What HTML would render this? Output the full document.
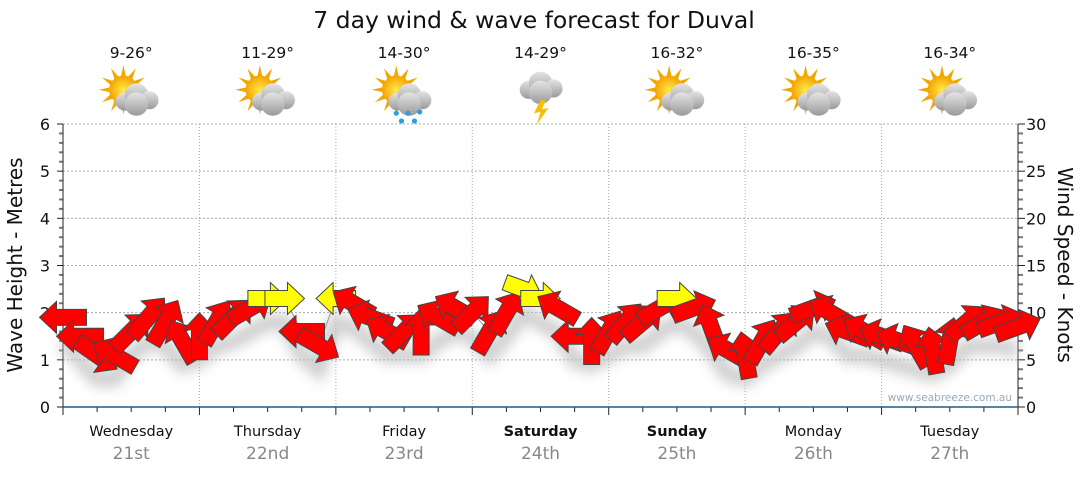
<!DOCTYPE html>
<html><head><meta charset="utf-8"><style>
body{margin:0;background:#fff;font-family:"Liberation Sans",sans-serif}
svg text{font-family:"DejaVu Sans","Liberation Sans",sans-serif}
</style></head><body>
<svg id="c" width="1080" height="475" viewBox="0 0 1080 475">
<defs><filter id="blur" x="-20%" y="-50%" width="140%" height="200%"><feGaussianBlur stdDeviation="6"/></filter>
<radialGradient id="sun" cx="0.5" cy="0.5" r="0.5"><stop offset="0" stop-color="#ffe94a"/><stop offset="1" stop-color="#f4a400"/></radialGradient>
<linearGradient id="cloud" x1="0" y1="0" x2="0" y2="1"><stop offset="0" stop-color="#e4e4e4"/><stop offset="1" stop-color="#9a9a9a"/></linearGradient></defs>
<text x="534" y="28" font-size="23.5" text-anchor="middle" fill="#111">7 day wind &amp; wave forecast for Duval</text>
<g id="grid"></g><g id="axes"></g><g id="icons"></g><g id="marks"></g>
<text x="1012" y="401" font-size="10.5" text-anchor="end" fill="#9aa8bb">www.seabreeze.com.au</text>
<text transform="translate(22,265) rotate(-90)" font-size="20" text-anchor="middle" fill="#111">Wave Height - Metres</text>
<text transform="translate(1058,265) rotate(90)" font-size="20" text-anchor="middle" fill="#111">Wind Speed - Knots</text>
</svg>
<script>
const days=["Wednesday","Thursday","Friday","Saturday","Sunday","Monday","Tuesday"];
const dates=["21st","22nd","23rd","24th","25th","26th","27th"];
const bold=[false,false,false,true,true,false,false];
const temps=["9-26°","11-29°","14-30°","14-29°","16-32°","16-35°","16-34°"];
const icons=["sc","sc","rain","storm","sc","sc","sc"];
const waveTicks=[0,1,2,3,4,5,6];
const windTicks=[0,5,10,15,20,25,30];
// 3-hourly readings
const waveHeight=[1.9,1.5,1.1,1.1,1.6,1.9,1.8,1.4,1.5,1.8,1.9,2.1,2.3,2.3,1.6,1.3,2.3,2.2,1.9,1.6,1.6,1.6,1.9,2.1,2.0,1.6,2.0,2.5,2.3,2.1,1.5,1.4,1.6,1.8,1.8,2.1,2.3,2.1,1.7,1.2,1.1,1.4,1.6,1.8,2.1,2.0,1.6,1.6,1.5,1.4,1.3,1.2,1.4,1.8,1.8,1.8,1.7];
const windSpeed=[14,14,15,15,15,16,16,14,14,15,15,14,9,9,13,13,9,13,14,14,14,14,14,13,13,14,14,9,9,13,14,14,14,14,14,14,9,13,14,14,14,15,15,14,14,14,14,14,14,14,14,14,14,14,14,14,14];
const windDir=[180,180,35,-150,-45,-50,-60,-120,-90,-60,-45,-30,0,0,180,30,180,-150,-160,-150,-45,-90,-150,-150,-45,-60,-60,20,0,-150,180,-90,-60,-50,-40,-30,0,-20,-110,-150,-100,-60,-50,-40,-20,-150,-160,-150,-160,-160,-120,-100,-80,-40,-30,-20,-20];
const NS="http://www.w3.org/2000/svg";
const X0=63,X1=1018,Y0=407,Y6=124;
const xT=h=>X0+(h/168)*(X1-X0);
const yW=v=>Y0-(v/6)*(Y0-Y6);
const yK=v=>Y0-(v/30)*(Y0-Y6);
function mk(t,a,p){const e=document.createElementNS(NS,t);for(const k in a)e.setAttribute(k,a[k]);if(p)p.appendChild(e);return e;}
const grid=document.getElementById('grid'),axes=document.getElementById('axes'),icG=document.getElementById('icons'),marks=document.getElementById('marks');
waveTicks.forEach(v=>{if(v>0){const l=mk('line',{x1:X0,x2:X1,y1:yW(v),y2:yW(v),stroke:'#aaa','stroke-dasharray':'2,2'},grid);

}
const t=mk('text',{x:50,y:yW(v)+6,'font-size':16,'text-anchor':'end',fill:'#111'},axes);t.textContent=v;

});
for(let m=0;m<=30;m++){const y=Y0-m*(Y0-Y6)/30;mk('line',{x1:X0,x2:X0-(m%5==0?6:4),y1:y,y2:y,stroke:m%5==0?'#222':'#777','stroke-width':m%5==0?1:2},axes);}
windTicks.forEach(v=>{const t=mk('text',{x:1026,y:yK(v)+6,'font-size':16,fill:'#111'},axes);t.textContent=v;

});
for(let m=0;m<=30;m++){const y=yK(m);mk('line',{x1:X1,x2:X1+(m%5==0?7:5),y1:y,y2:y,stroke:m%5==0?'#222':'#777','stroke-width':m%5==0?1:2},axes);}
mk('line',{x1:X0,x2:X0,y1:Y6,y2:Y0,stroke:'#222'},axes);
mk('line',{x1:X1,x2:X1,y1:Y6,y2:Y0,stroke:'#222'},axes);
for(let d=0;d<=7;d++){const x=xT(d*24);
if(d>0&&d<7){const l=mk('line',{x1:x,x2:x,y1:Y6,y2:Y0,stroke:'#aaa','stroke-dasharray':'1,2'},grid);

}
mk('line',{x1:x,x2:x,y1:Y0,y2:Y0+8,stroke:'#222'},axes);}
for(let q=0;q<28;q++){if(q%4){const x=xT(q*6);mk('line',{x1:x,x2:x,y1:Y0,y2:Y0+5,stroke:'#222'},axes);}}
const xa=mk('line',{x1:X0,x2:X1,y1:Y0,y2:Y0,stroke:'#1e5c8c','stroke-width':1.5},axes);


days.forEach((d,i)=>{const cx=xT(i*24+12);
const t=mk('text',{x:cx,y:436,'font-size':14.5,'text-anchor':'middle',fill:'#111','font-weight':bold[i]?'bold':'normal'},axes);t.textContent=d;


const t2=mk('text',{x:cx,y:459,'font-size':17,'text-anchor':'middle',fill:'#888'},axes);t2.textContent=dates[i];


const t3=mk('text',{x:cx,y:58,'font-size':15.5,'text-anchor':'middle',fill:'#111'},icG);t3.textContent=temps[i];


const g=mk('g',{transform:`translate(${cx},95) scale(1.3)`},icG);


if(icons[i]!='storm'){for(let r=0;r<12;r++){const a=r*30*Math.PI/180;mk('polygon',{points:`${-6+Math.cos(a)*19},${-4+Math.sin(a)*19} ${-6+Math.cos(a+0.2)*10},${-4+Math.sin(a+0.2)*10} ${-6+Math.cos(a-0.2)*10},${-4+Math.sin(a-0.2)*10}`,fill:'#f0a800'},g);}
mk('circle',{cx:-6,cy:-4,r:11,fill:'url(#sun)'},g);}
const cl=mk('g',{transform:icons[i]=='storm'?'translate(0,-6)':'translate(4,3)'},g);
[[-9,2,7],[0,-3,9],[10,1,7],[0,4,9]].forEach(c=>mk('circle',{cx:c[0],cy:c[1],r:c[2],fill:'url(#cloud)'},cl));
if(icons[i]=='storm'){mk('polygon',{points:'0,4 -5,14 0,13 -3,23 6,10 1,11 4,4',fill:'#f6c000'},g);}
if(icons[i]=='rain'){[[-6,14],[3,14],[12,13],[-2,20],[8,20]].forEach(p=>mk('circle',{cx:p[0],cy:p[1],r:2,fill:'#2aa0e0'},g));}
});
// wave line & shadow
let pts=waveHeight.map((v,i)=>`${xT(i*3)},${yW(v)}`).join(' ');
mk('polyline',{points:waveHeight.map((v,i)=>`${xT(i*3)},${yW(v)+24}`).join(' '),fill:'none',stroke:'#bbb','stroke-width':16,filter:'url(#blur)',opacity:0.7},marks);
const wl=mk('polyline',{points:pts,fill:'none',stroke:'#999','stroke-width':1},marks);


waveHeight.forEach((v,i)=>{const s=windSpeed[i];const L=26+s*1.5,bw=8,hw=16,hl=17;
const p=`${-L/2},${-bw} ${L/2-hl},${-bw} ${L/2-hl},${-hw} ${L/2},0 ${L/2-hl},${hw} ${L/2-hl},${bw} ${-L/2},${bw}`;
const a=mk('polygon',{points:p,fill:s<10?'#ffff00':'#ff0000',stroke:'#444','stroke-width':1,transform:`translate(${xT(i*3)},${yW(v)}) rotate(${windDir[i]})`},marks);

});
</script>
</body></html>
